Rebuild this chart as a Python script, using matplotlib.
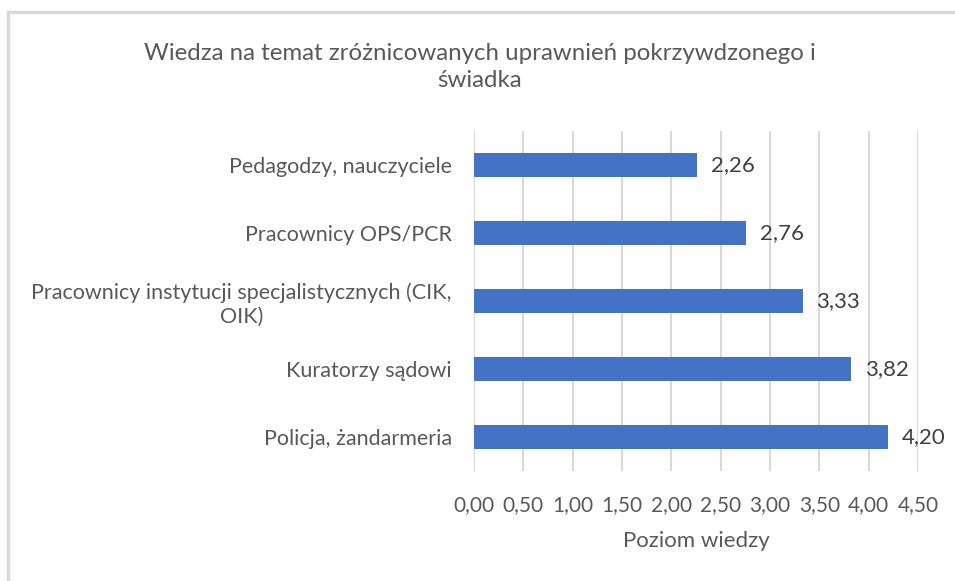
import matplotlib.pyplot as plt
from matplotlib.lines import Line2D

# dane z wykresu
categories = ['Pedagodzy, nauczyciele', 'Pracownicy OPS/PCR',
              'Pracownicy instytucji specjalistycznych (CIK,\nOIK)',
              'Kuratorzy sądowi', 'Policja, żandarmeria']
values = [2.26, 2.76, 3.33, 3.82, 4.20]
x_ticks = [0, 0.5, 1.0, 1.5, 2.0, 2.5, 3.0, 3.5, 4.0, 4.5]

plt.rcParams['font.family'] = ['Lato', 'DejaVu Sans']
text_col = '#595959'

fig = plt.figure(figsize=(9.55, 5.81), dpi=100)
ax = fig.add_axes([474 / 955, 1 - 471 / 581, (918 - 474) / 955, (471 - 131) / 581])

pos = list(range(len(categories)))
ax.barh(pos, values, height=0.34, color='#4472C4', zorder=3)
for p, v in zip(pos, values):
    ax.text(v + 0.14, p, f'{v:.2f}'.replace('.', ','), va='center', ha='left',
            fontsize=16, color='#404040')

ax.set_xlim(0, 4.5)
ax.set_ylim(len(categories) - 0.5, -0.5)
ax.set_xticks(x_ticks)
ax.set_xticklabels([f'{t:.2f}'.replace('.', ',') for t in x_ticks])
ax.set_yticks(pos)
ax.set_yticklabels(categories, ha='right', multialignment='center')
ax.tick_params(axis='both', length=0, labelsize=15.5, labelcolor=text_col)
ax.tick_params(axis='x', pad=17, labelsize=15)
ax.tick_params(axis='y', pad=16)
ax.grid(axis='x', color='#d9d9d9', linewidth=1.5, zorder=0)
ax.set_axisbelow(True)
for s in ax.spines.values():
    s.set_visible(False)
ax.set_xlabel('Poziom wiedzy', fontsize=16, color=text_col, labelpad=12)

fig.text(480 / 955, 1 - 67 / 581,
         'Wiedza na temat zróżnicowanych uprawnień pokrzywdzonego i\nświadka',
         ha='center', va='center', fontsize=17.3, color=text_col, linespacing=1.4)

# ramka wykresu (górna i lewa krawędź)
fig.add_artist(Line2D([8 / 955, 1], [1 - 12 / 581, 1 - 12 / 581], color='#d9d9d9', lw=2.5))
fig.add_artist(Line2D([8 / 955, 8 / 955], [0, 1 - 12 / 581], color='#d9d9d9', lw=2.5))

fig.savefig('out.png', dpi=100)
